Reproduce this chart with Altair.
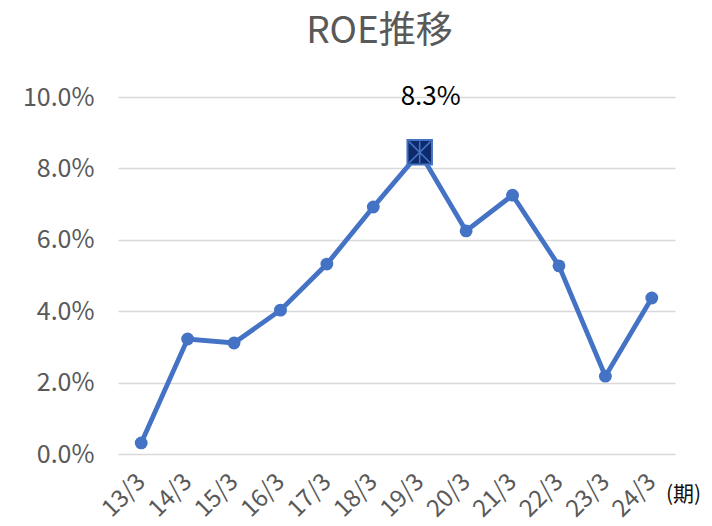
import altair as alt
import pandas as pd

periods = ["13/3", "14/3", "15/3", "16/3", "17/3", "18/3", "19/3", "20/3", "21/3", "22/3", "23/3", "24/3"]
roe = [0.0031, 0.0322, 0.0311, 0.0403, 0.0532, 0.0692, 0.0845, 0.0625, 0.0725, 0.0527, 0.0218, 0.0437]
highlight = "19/3"
highlight_label = "8.3%"

df = pd.DataFrame({"period": periods, "roe": roe})
df["hl"] = df["period"] == highlight
df["lbl"] = [highlight_label if p == highlight else "" for p in periods]

FONT = "Noto Sans CJK JP"
BLUE = "#4472C4"

x = alt.X("period:N", sort=periods,
          scale=alt.Scale(paddingInner=0, paddingOuter=0.5),
          axis=alt.Axis(title="(期)", titleAngle=0, titleX=565, titleY=40,
                        titleFont=FONT, titleFontSize=21, titleFontWeight="normal",
                        titleColor="#111111", titleAlign="center", titleBaseline="middle",
                        labelAngle=-45, labelAlign="right", labelBaseline="middle",
                        labelFont=FONT, labelFontSize=24, labelColor="#595959",
                        labelPadding=24, domain=False, ticks=False, grid=False))
y = alt.Y("roe:Q", scale=alt.Scale(domain=[0, 0.10], nice=False),
          axis=alt.Axis(title=None, format=".1%", values=[0, 0.02, 0.04, 0.06, 0.08, 0.10],
                        labelFont=FONT, labelFontSize=25, labelColor="#595959",
                        labelPadding=24, domain=False, ticks=False,
                        grid=True, gridColor="#D9D9D9", gridWidth=1.5))

base = alt.Chart(df).encode(x=x, y=y)

line = base.mark_line(color=BLUE, strokeWidth=4.8)
pts = base.transform_filter("!datum.hl").mark_point(filled=True, shape="circle", size=165, color=BLUE, opacity=1)
sq = base.transform_filter("datum.hl").mark_point(filled=True, shape="square", size=600,
                                                  fill="#0D2A6B", stroke=BLUE, strokeWidth=2, opacity=1)
cross = base.transform_filter("datum.hl").mark_point(shape="M0,-1L0,1M-1,-1L1,1M-1,1L1,-1", size=460,
                                                     filled=False, stroke=BLUE, strokeWidth=1.6, opacity=1)
label = base.transform_filter("datum.hl").mark_text(font=FONT, fontSize=26, color="#000000",
                                                    dx=11, dy=-55, baseline="middle").encode(
    text="lbl:N")

chart = alt.layer(line, pts, sq, cross, label).properties(
    width=557, height=357,
    title=alt.TitleParams("ROE推移", font=FONT, fontSize=37, fontWeight="normal", color="#595959",
                          anchor="middle", dx=-17, offset=33),
    autosize=alt.AutoSizeParams(type="none"),
    padding={"left": 110, "top": 89, "right": 29, "bottom": 72},
).configure_view(stroke=None)

chart.save("out.html", embed_options={"renderer": "svg", "actions": False})
